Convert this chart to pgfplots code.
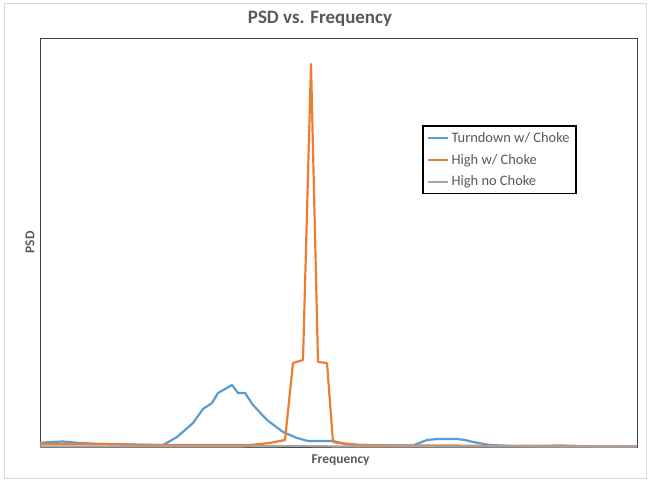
\documentclass[border=0pt]{standalone}
\usepackage{fontspec}
\setmainfont{Carlito}
\usepackage{pgfplots}
\pgfplotsset{compat=1.18}
\usetikzlibrary{calc}

\definecolor{xlblue}{HTML}{5B9BD5}
\definecolor{xlorange}{HTML}{ED7D31}
\definecolor{xlgray}{HTML}{A5A5A5}
\definecolor{txtgray}{HTML}{595959}

\begin{document}
\begin{tikzpicture}
\begin{axis}[
    name=ax,
    scale only axis,
    width=597bp, height=409bp,
    xmin=40, xmax=637, ymin=0, ymax=409,
    xtick=\empty, ytick=\empty,
    axis line style={black!75, line width=0.8pt},
    legend style={at={(0.64,0.787)}, anchor=north west,
        draw=black, line width=1.8pt, font=\fontsize{14.5}{17}\selectfont\color{txtgray},
        row sep=6.5pt, inner xsep=4pt, inner ysep=4pt,
        /tikz/every even column/.append style={column sep=0pt}},
    legend cell align=left,
    legend image code/.code={\draw[#1, line width=2.2pt] (-0.1cm,0cm) -- (0.62cm,0cm);},
    every axis plot/.append style={line width=2.2pt, line join=round},
]
\addplot[xlblue] coordinates {
(40,4) (50,5) (63,5.5) (80,4) (100,3) (130,2.5) (160,2) (163,2) (177,10)
(193,24) (203,38) (212,44) (218,54) (232,62) (238,54) (245,54) (253,42)
(267,27) (283,15) (297,9) (308,6) (320,6) (333,6) (347,2.5) (363,2)
(390,1.5) (413,1.5) (427,7) (437,8) (447,8) (457,8) (465,7) (473,5)
(490,2) (513,1) (540,0.5) (637,0.5)
};
\addplot[xlorange] coordinates {
(40,3) (100,3) (150,2) (200,2) (250,2) (270,4) (285,7) (293,84) (303,87)
(311,383) (318,85) (327,84) (333,5) (340,4) (360,2) (400,1.5) (450,1.5)
(500,1) (563,1.5) (600,0.5) (637,0.5)
};
\addplot[xlgray] coordinates {
(40,0.5) (150,0.5) (230,0.5) (300,1) (340,0.5) (450,0.5) (637,0.5)
};
\legend{Turndown w/ Choke, High w/ Choke, High no Choke}
\end{axis}
\node[font=\fontsize{19}{21}\selectfont\bfseries, text=txtgray] at ($(ax.north west)+(280bp,19bp)$) {PSD vs. Frequency};
\node[font=\fontsize{13.5}{15}\selectfont\bfseries, text=txtgray, rotate=90] at ($(ax.west)+(-10bp,0)$) {PSD};
\node[font=\fontsize{13.5}{15}\selectfont\bfseries, text=txtgray] at ($(ax.south)+(2bp,-13bp)$) {Frequency};
\draw[black!15, line width=0.8pt] ($(ax.south west)+(-36bp,-31bp)$) rectangle ($(ax.north east)+(9bp,35bp)$);
\path[use as bounding box] ($(ax.south west)+(-40bp,-34bp)$) rectangle ($(ax.north east)+(12bp,38bp)$);
\end{tikzpicture}
\end{document}
